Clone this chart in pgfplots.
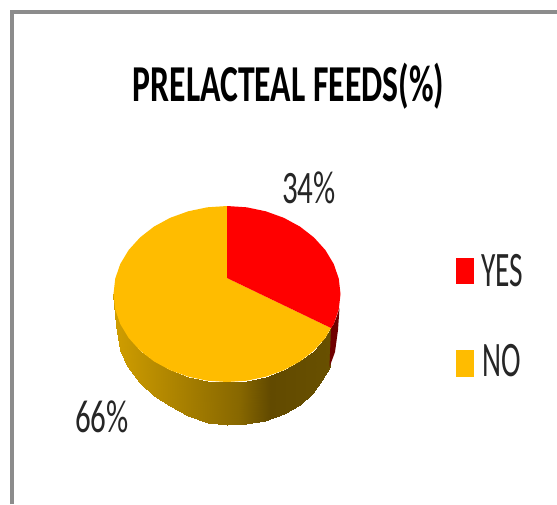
\documentclass[border=0pt]{standalone}
\usepackage{graphicx}
\usepackage{fontspec}
\setmainfont{Carlito}
\usepackage{pgfplots}
\usepackage{pgfplotstable}
\pgfplotsset{compat=1.18}

\definecolor{sliceYes}{RGB}{255,0,0}
\definecolor{sliceNo}{RGB}{255,188,0}
\definecolor{sideYes}{RGB}{112,0,0}
\definecolor{frameGrey}{RGB}{140,140,140}
\definecolor{labelText}{RGB}{38,38,38}

% Top face of the YES slice (34%), outline in canvas units
\pgfplotstableread{
x y
227 278
227 206
246.7 207.3
265.8 211.3
283.8 217.8
300 226.6
313.9 237.4
325.3 250
333.7 263.9
338.8 278.7
340.5 294
338.8 309.3
333.7 324.1
331 328
}\sliceyes

% Top face of the NO slice (66%)
\pgfplotstableread{
x y
227 278
331 328
325.3 338
313.9 350.6
300 361.4
283.8 370.2
265.8 376.7
246.7 380.7
227 382
207.3 380.7
188.2 376.7
170.2 370.2
154 361.4
140.1 350.6
128.7 338
120.3 324.1
115.2 309.3
113.5 294
115.2 278.7
120.3 263.9
128.7 250
140.1 237.4
154 226.6
170.2 217.8
188.2 211.3
207.3 207.3
227 206
}\sliceno

% Rim of the NO slice: upper edge, then lower edge
\pgfplotstableread{
x y
113.5 294
115.2 309.3
120.3 324.1
128.7 338
140.1 350.6
154 361.4
170.2 370.2
188.2 376.7
207.3 380.7
227 382
246.7 380.7
265.8 376.7
283.8 370.2
300 361.4
313.9 350.6
325.3 338
331 328
114.5 305
116.5 325
120 350
127 366
140 382.5
154 395.5
170 406
188 415.5
207.7 423
227 425
246.3 424
265 421
284 414
300 405
313 392.5
322 380
329.5 367
}\rimno

% Rim of the YES slice, a thin sliver on the right
\pgfplotstableread{
x y
339.5 308
338 330
335 352
331 363
329.5 367
331 328
333.7 324.1
336.5 317
}\rimyes

\begin{document}
\begin{tikzpicture}
\begin{axis}[
  scale only axis,
  width=557pt, height=504pt,
  xmin=0, xmax=557, ymin=0, ymax=504,
  y dir=reverse,
  hide axis,
  colormap={rim}{rgb255(0cm)=(208,158,0); rgb255(5.8cm)=(135,103,0); rgb255(7.2cm)=(98,74,0); rgb255(10cm)=(104,80,0)},
  point meta min=113.5, point meta max=331,
]
% outer frame of the chart area
\addplot[frameGrey, line width=4pt, forget plot] coordinates {(12.3,504) (12.3,11.5) (557,11.5)};

% pie rims
\addplot[surf, shader=interp, mesh/rows=2, point meta=x, forget plot] table[x=x, y=y] {\rimno};
\addplot[fill=sideYes, draw=none, forget plot] table[x=x, y=y] {\rimyes} -- cycle;

% pie top faces
\addplot[fill=sliceNo, draw=none, forget plot] table[x=x, y=y] {\sliceno} -- cycle;
\addplot[fill=sliceYes, draw=none, forget plot] table[x=x, y=y] {\sliceyes} -- cycle;

% legend swatches
\addplot[fill=sliceYes, draw=none, forget plot] coordinates {(456,258) (473.5,258) (473.5,284) (456,284)} -- cycle;
\addplot[fill=sliceNo, draw=none, forget plot] coordinates {(456,350) (473.5,350) (473.5,377) (456,377)} -- cycle;

\node at (axis cs:288.5,86) {\fontsize{37}{40}\selectfont\bfseries\scalebox{0.91}[1.4]{PRELACTEAL FEEDS(\%)}};
\node[text=labelText] at (axis cs:309,188) {\fontsize{31}{34}\selectfont\scalebox{1}[1.5]{34\%}};
\node[text=labelText] at (axis cs:102,417) {\fontsize{31}{34}\selectfont\scalebox{1}[1.5]{66\%}};
\node[text=labelText] at (axis cs:502.5,271) {\fontsize{31}{34}\selectfont\scalebox{0.95}[1.6]{YES}};
\node[text=labelText] at (axis cs:502,361) {\fontsize{31}{34}\selectfont\scalebox{0.95}[1.6]{NO}};
\end{axis}
% the page spans the full canvas
\path (0,0) rectangle (557pt,504pt);
\end{tikzpicture}
\end{document}
